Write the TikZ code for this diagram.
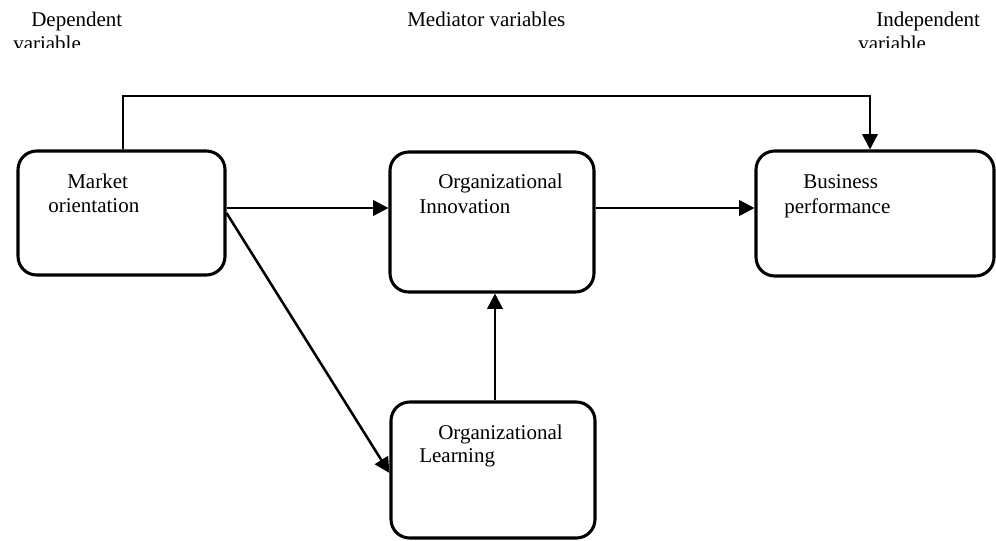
\documentclass[tikz,border=0pt]{standalone}
\usepackage{fontspec}
\setmainfont{Liberation Serif}
\usetikzlibrary{arrows.meta,fit}
\begin{document}
\begin{tikzpicture}[x=0.75pt,y=-0.75pt,
  box/.style={draw, line width=2.3pt, rounded corners=14pt, inner sep=0pt},
  lbl/.style={anchor=base west, inner sep=0pt, font=\fontsize{15.75}{19}\selectfont},
  arr/.style={line width=1.9pt, -{Triangle[length=11.5pt,width=11.5pt]}},
  ln/.style={line width=1.9pt}]
\useasboundingbox (0,0) rectangle (996,540);
% top labels (second lines clipped as in the reference)
\begin{scope}
\clip (0,0) rectangle (996,47);
\node[lbl] (dep1) at (31,26) {Dependent};
\node[lbl] (dep2) at (13,50) {variable};
\node[lbl] (med) at (407,26) {Mediator variables};
\node[lbl] (ind1) at (876,26) {Independent};
\node[lbl] (ind2) at (858,50) {variable};
\end{scope}
% boxes
\node[box, fit={(18,151) (225,275)}] (mo) {};
\node[box, fit={(390,152) (594,292)}] (inn) {};
\node[box, fit={(756,151) (994,276)}] (bp) {};
\node[box, fit={(391,402) (595,538)}] (lrn) {};
% texts
\node[lbl] (mo1) at (67,188) {Market};
\node[lbl] (mo2) at (48,212) {orientation};
\node[lbl] (inn1) at (438,188) {Organizational};
\node[lbl] (inn2) at (419,213) {Innovation};
\node[lbl] (bp1) at (803,188) {Business};
\node[lbl] (bp2) at (784,213) {performance};
\node[lbl] (lrn1) at (438,439) {Organizational};
\node[lbl] (lrn2) at (419,462) {Learning};
% helper coordinates
\coordinate (h208) at (0,208);
\coordinate (h473) at (0,473);
\coordinate (v495) at (495,0);
\coordinate (c1) at (123,96);
\coordinate (c2) at (870,96);
% connectors
\draw[arr] (mo.east |- h208) -- (inn.west |- h208);
\draw[arr] (inn.east |- h208) -- (bp.west |- h208);
\draw[arr] (lrn.north -| v495) -- (inn.south -| v495);
\draw[arr] (mo.east) -- (lrn.west |- h473);
\draw[arr] (mo.north -| c1) -- (c1) -- (c2) -- (bp.north -| c2);
\end{tikzpicture}
\end{document}
